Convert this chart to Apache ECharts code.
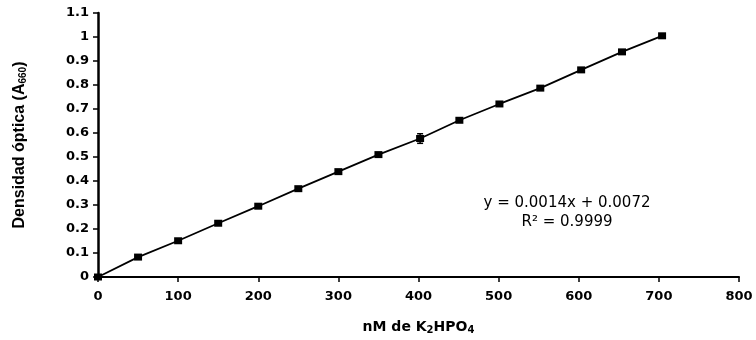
<!DOCTYPE html>
<html>
<head>
<meta charset="utf-8">
<script src="https://cdn.jsdelivr.net/npm/echarts@6/dist/echarts.min.js"></script>
<style>html,body{margin:0;padding:0;background:#fff}#c{width:756px;height:340px}</style>
</head>
<body>
<div id="c"></div>
<script>
var xValues = [0, 50, 100, 150, 200, 250, 300, 350, 402, 451, 501, 552, 603, 654, 704];
var yValues = [0, 0.083, 0.151, 0.224, 0.295, 0.368, 0.439, 0.51, 0.577, 0.653, 0.721, 0.787, 0.863, 0.938, 1.005];
var yErrors = [0, 0.004, 0.004, 0.004, 0.004, 0.004, 0.004, 0.004, 0.02, 0.004, 0.004, 0.004, 0.004, 0.004, 0.004];
var equationLines = ['y = 0.0014x + 0.0072', 'R² = 0.9999'];

var pts = xValues.map(function (x, i) { return [x, yValues[i]]; });
var errs = xValues.map(function (x, i) { return [x, yValues[i] - yErrors[i], yValues[i] + yErrors[i]]; });

var chart = echarts.init(document.getElementById('c'));
var font = 'DejaVu Sans, Verdana, sans-serif';
var narrow = 'Liberation Sans Narrow, Liberation Sans, Arial, sans-serif';
chart.setOption({
  animation: false,
  grid: { left: 98, right: 17, top: 13, bottom: 62 },
  xAxis: {
    type: 'value', min: 0, max: 800, interval: 100,
    splitLine: { show: false },
    axisLine: { lineStyle: { color: '#000', width: 2 } },
    axisTick: { lineStyle: { color: '#000', width: 1.5 }, length: 5 },
    axisLabel: { color: '#000', fontFamily: font, fontWeight: 'bold', fontSize: 13, margin: 13 },
    name: '{b|nM de K}{s|2}{b|HPO}{s|4}',
    nameLocation: 'middle', nameGap: 42,
    nameTextStyle: {
      rich: {
        b: { fontFamily: font, fontWeight: 'bold', fontSize: 14, color: '#000' },
        s: { fontFamily: font, fontWeight: 'bold', fontSize: 10, color: '#000', verticalAlign: 'bottom', padding: [6, 0, 0, 0] }
      }
    }
  },
  yAxis: {
    type: 'value', min: 0, max: 1.1, interval: 0.1,
    splitLine: { show: false },
    axisLine: { lineStyle: { color: '#000', width: 2.5 } },
    axisTick: { lineStyle: { color: '#000', width: 1.5 }, length: 5 },
    axisLabel: {
      color: '#000', fontFamily: font, fontWeight: 'bold', fontSize: 13, margin: 9,
      formatter: function (v) { return String(Math.round(v * 10) / 10); }
    },
    name: '{b|Densidad óptica (A}{s|660}{b|)}',
    nameLocation: 'middle', nameGap: 70, nameRotate: 90,
    nameTextStyle: {
      rich: {
        b: { fontFamily: narrow, fontWeight: 'bold', fontSize: 16, color: '#000' },
        s: { fontFamily: narrow, fontWeight: 'bold', fontSize: 10, color: '#000', verticalAlign: 'bottom', padding: [7, 0, 0, 0] }
      }
    }
  },
  series: [
    {
      type: 'line', data: pts,
      symbol: 'rect', symbolSize: [8, 7],
      itemStyle: { color: '#000' },
      lineStyle: { color: '#000', width: 1.8 },
      z: 3
    },
    {
      type: 'custom', data: errs, z: 4,
      renderItem: function (params, api) {
        var lo = api.coord([api.value(0), api.value(1)]);
        var hi = api.coord([api.value(0), api.value(2)]);
        var w = 3;
        return {
          type: 'group', children: [
            { type: 'line', shape: { x1: lo[0], y1: lo[1], x2: hi[0], y2: hi[1] }, style: { stroke: '#000', lineWidth: 1.5 } },
            { type: 'line', shape: { x1: lo[0] - w, y1: lo[1], x2: lo[0] + w, y2: lo[1] }, style: { stroke: '#000', lineWidth: 1.5 } },
            { type: 'line', shape: { x1: hi[0] - w, y1: hi[1], x2: hi[0] + w, y2: hi[1] }, style: { stroke: '#000', lineWidth: 1.5 } }
          ]
        };
      }
    }
  ],
  graphic: [
    { type: 'text', x: 567, y: 203, style: { text: equationLines[0], font: '15px ' + font, fill: '#000', align: 'center', verticalAlign: 'middle' } },
    { type: 'text', x: 567, y: 222, style: { text: equationLines[1], font: '15px ' + font, fill: '#000', align: 'center', verticalAlign: 'middle' } }
  ]
});
</script>
</body>
</html>
